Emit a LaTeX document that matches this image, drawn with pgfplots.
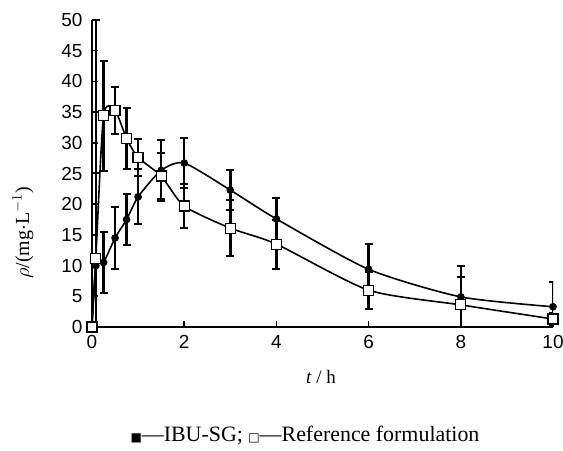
\documentclass[border=0pt]{standalone}
\usepackage{fontspec}
\usepackage{pgfplots}
\pgfplotsset{compat=1.18}
\setmainfont{Liberation Serif}
\newfontfamily\tickfont{Liberation Sans}
\newfontfamily\symfont{DejaVu Sans}

% t  rho  sd
\pgfplotstableread{
t     y     e
0     0     0
0.083 10.0  15
0.25  10.5  5
0.5   14.5  5
0.75  17.5  4.2
1     21.2  4.5
1.5   25.5  5
2     26.7  4
3     22.3  3.3
4     17.6  3.4
6     9.4   4.1
8     4.9   5
10    3.3   4.1
}\ibu
\pgfplotstableread{
t     y     e
0     0     0
0.083 11.2  38.8
0.25  34.4  9
0.5   35.3  3.8
0.75  30.7  5
1     27.6  3
1.5   24.6  3.7
2     19.7  3.6
3     16.1  4.6
4     13.5  4
6     6.0   3
8     3.6   4.6
10    1.3   1
}\refform

\begin{document}
\begin{tikzpicture}
\useasboundingbox (-92bp,-124bp) rectangle (471bp,327bp);
\begin{axis}[
  scale only axis,
  width=461bp, height=307bp,
  xmin=0, xmax=10, ymin=0, ymax=50,
  axis lines=left,
  axis line style={line width=1.6bp, -},
  xtick={0,2,...,10}, ytick={0,5,...,50},
  tick align=inside,
  major tick length=6bp,
  tick style={line width=1.6bp, black},
  /pgf/number format/assume math mode=true,
  ticklabel style={font=\tickfont\fontsize{19}{19}\selectfont},
  xticklabel style={yshift=-5bp},
  yticklabel style={xshift=-6bp},
  error bars/y dir=both,
  error bars/y explicit,
  error bars/error bar style={line width=2.6bp, black},
  error bars/error mark options={rotate=90, mark size=4bp, line width=2bp, black},
]
\addplot[black, line width=1.6bp, smooth, tension=0.4,
  mark=*, mark size=3bp, mark options={solid, fill=black}]
  table[x=t, y=y, y error=e] {\ibu};
\addplot[black, line width=1.6bp, smooth, tension=0.4,
  mark=square*, mark size=5bp, mark options={solid, fill=white, line width=1.2bp}]
  table[x=t, y=y, y error=e] {\refform};
\end{axis}
\node[rotate=90, font=\fontsize{20}{20}\selectfont] at (-69bp,94bp)
  {$\rho$/(mg$\cdot$L$^{-1}$)};
\node[font=\fontsize{19}{19}\selectfont] at (229bp,-50bp) {\textit{t} / h};
\node[font=\fontsize{22}{22}\selectfont] at (213bp,-108bp)
  {{\symfont\fontsize{12}{12}\selectfont ■}—IBU-SG; {\symfont\fontsize{12}{12}\selectfont □}—Reference formulation};
\end{tikzpicture}
\end{document}
